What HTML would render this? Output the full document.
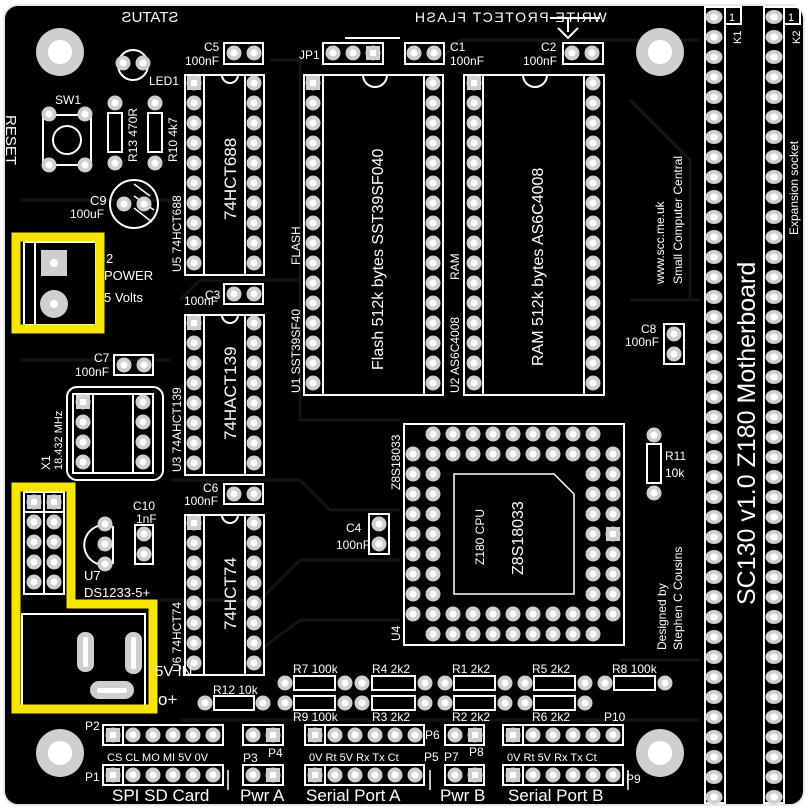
<!DOCTYPE html>
<html><head><meta charset="utf-8"><style>
html,body{margin:0;padding:0;background:#fff}
svg{display:block}
text{font-family:"Liberation Sans","DejaVu Sans",sans-serif;fill:#fff}
</style></head><body>
<svg width="809" height="809" viewBox="0 0 809 809" xmlns="http://www.w3.org/2000/svg" xmlns:xlink="http://www.w3.org/1999/xlink">
<defs>
<pattern id="pc" width="20" height="20" patternUnits="userSpaceOnUse"><circle cx="10" cy="10" r="7.5" fill="#cfcfcf"/><circle cx="10" cy="10" r="3.5" fill="#fff"/></pattern>
<pattern id="pk" width="20" height="20" patternUnits="userSpaceOnUse"><ellipse cx="10" cy="10" rx="8.5" ry="7" fill="#cfcfcf"/><ellipse cx="10" cy="10" rx="4" ry="3.5" fill="#fff"/></pattern>
<g id="pd"><circle r="7.5" fill="#cfcfcf"/><circle r="3.5" fill="#fff"/></g>
<g id="sq"><rect x="-7" y="-7" width="14" height="14" fill="#cfcfcf"/><rect x="-3" y="-3" width="6" height="6" fill="#fff"/></g>
</defs>
<rect x="4" y="5" width="800" height="800" rx="14" fill="#000" stroke="#e8e8e8" stroke-width="2"/>
<g stroke="#141414" stroke-width="3" fill="none">
<path d="M270 60 H300 V420 H400"/><path d="M440 60 L460 40 H700"/><path d="M630 100 L690 160 V300"/>
<path d="M180 300 L200 280 H300"/><path d="M170 480 H300 L330 510 H400"/><path d="M160 600 H260 L300 560 H400"/>
<path d="M260 650 L300 620 H400"/><path d="M630 300 H700"/><path d="M620 660 H700"/>
<path d="M20 200 H180"/><path d="M20 360 H170"/><path d="M180 720 H700"/>
</g>
<g fill="#cfcfcf"><circle cx="60" cy="52" r="24"/><circle cx="660" cy="52" r="24"/><circle cx="60" cy="753" r="24"/><circle cx="660" cy="753" r="24"/></g>
<g fill="#fff"><circle cx="60" cy="52" r="12"/><circle cx="660" cy="52" r="12"/><circle cx="60" cy="753" r="12"/><circle cx="660" cy="753" r="12"/></g>

<g stroke="#fff" stroke-width="2" fill="none">
<rect x="705" y="7" width="20" height="796"/><rect x="725" y="7" width="16" height="17"/>
<rect x="764" y="7" width="20" height="796"/><rect x="784" y="7" width="16" height="17"/>
<rect x="185" y="75" width="79" height="200"/><line x1="204" y1="75" x2="204" y2="275"/><line x1="245" y1="75" x2="245" y2="275"/>
<rect x="185" y="315" width="79" height="160"/><line x1="204" y1="315" x2="204" y2="475"/><line x1="245" y1="315" x2="245" y2="475"/>
<rect x="185" y="515" width="79" height="160"/><line x1="204" y1="515" x2="204" y2="675"/><line x1="245" y1="515" x2="245" y2="675"/>
<rect x="304" y="75" width="139" height="320"/><line x1="323" y1="75" x2="323" y2="395"/><line x1="424" y1="75" x2="424" y2="395"/>
<rect x="464" y="75" width="140" height="320"/><line x1="483" y1="75" x2="483" y2="395"/><line x1="584" y1="75" x2="584" y2="395"/>
<path d="M222 75 a8 8 0 0 0 16 0"/><path d="M222 315 a8 8 0 0 0 16 0"/><path d="M222 515 a8 8 0 0 0 16 0"/>
<path d="M363 75 a12 12 0 0 0 24 0"/><path d="M523 75 a12 12 0 0 0 24 0"/>
<rect x="404" y="424" width="220" height="221"/>
<path d="M454 474 H554 L574 494 V594 H454 Z" stroke-width="1.5"/>
<rect x="67" y="387" width="96" height="93" rx="10"/><line x1="93" y1="394" x2="93" y2="473"/><line x1="133" y1="394" x2="133" y2="473"/><rect x="73" y="394" width="80" height="79"/>
<rect x="224" y="43" width="39" height="21"/><rect x="323" y="43" width="60" height="21"/><rect x="405" y="43" width="39" height="21"/><rect x="563" y="43" width="40" height="21"/>
<rect x="224" y="284" width="39" height="20"/><rect x="114" y="355" width="39" height="20"/><rect x="224" y="484" width="39" height="20"/>
<rect x="369" y="514" width="20" height="40"/><rect x="664" y="324" width="20" height="40"/><rect x="135" y="525" width="18" height="39"/>
<rect x="43" y="115" width="48" height="50"/><circle cx="67" cy="140" r="14"/>
<rect x="108" y="113" width="14" height="39"/><rect x="148" y="113" width="14" height="39"/>
<circle cx="134" cy="204" r="24"/><circle cx="133" cy="65" r="15"/>
<rect x="647" y="444" width="14" height="39"/>
<path d="M113 527 A20 20 0 1 0 113 563 Z"/>
<rect x="24" y="242" width="72" height="83"/><line x1="35" y1="242" x2="35" y2="325"/>
<rect x="24" y="492" width="40" height="102"/><line x1="44" y1="492" x2="44" y2="594"/><line x1="24" y1="512" x2="64" y2="512"/>
<rect x="22" y="614" width="123" height="92"/>
<rect x="294" y="676" width="41" height="14"/><rect x="372" y="676" width="43" height="14"/><rect x="454" y="676" width="41" height="14"/><rect x="534" y="676" width="41" height="14"/><rect x="614" y="676" width="41" height="14"/>
<rect x="214" y="696" width="40" height="14"/><rect x="294" y="696" width="41" height="14"/><rect x="372" y="696" width="43" height="14"/><rect x="454" y="696" width="41" height="14"/><rect x="534" y="696" width="41" height="14"/>
<rect x="103" y="725" width="120" height="20"/><line x1="123" y1="725" x2="123" y2="745"/>
<rect x="243" y="725" width="40" height="20"/><rect x="305" y="725" width="119" height="20"/><line x1="325" y1="725" x2="325" y2="745"/>
<rect x="445" y="725" width="39" height="20"/><rect x="503" y="725" width="120" height="20"/><line x1="523" y1="725" x2="523" y2="745"/>
<rect x="103" y="765" width="120" height="20"/><line x1="123" y1="765" x2="123" y2="785"/>
<rect x="243" y="765" width="40" height="20"/><rect x="305" y="765" width="119" height="20"/><line x1="325" y1="765" x2="325" y2="785"/>
<rect x="445" y="765" width="39" height="20"/><rect x="503" y="765" width="120" height="20"/><line x1="523" y1="765" x2="523" y2="785"/>
<path d="M550 18 H600 M568 18 V32 M558 28 L568 38 L578 28 M345 38 H400"/>
<path d="M228 770 V790 M430 770 V790 M628 770 V790" stroke-width="1.5"/>
</g>
<g stroke="#fff" stroke-width="1.5"><line x1="134" y1="184" x2="150" y2="196"/><line x1="134" y1="196" x2="154" y2="210"/><line x1="134" y1="208" x2="152" y2="222"/></g>
<g fill="none" stroke="#f6e500" stroke-width="9">
<rect x="16" y="237" width="84" height="92"/>
<path d="M16 487 H71 V604 H153 V709 H16 Z"/>
</g>

<g fill="url(#pk)">
<rect transform="translate(704,7)" width="20" height="800"/>
<rect transform="translate(764,7)" width="20" height="800"/>
</g>
<g fill="url(#pc)">
<rect transform="translate(184,73)" width="20" height="200"/><rect transform="translate(244,73)" width="20" height="200"/>
<rect transform="translate(184,313)" width="20" height="160"/><rect transform="translate(244,313)" width="20" height="160"/>
<rect transform="translate(184,513)" width="20" height="160"/><rect transform="translate(244,513)" width="20" height="160"/>
<rect transform="translate(303,73)" width="20" height="320"/><rect transform="translate(423,73)" width="20" height="320"/>
<rect transform="translate(464,73)" width="20" height="320"/><rect transform="translate(583,73)" width="20" height="320"/>
<rect transform="translate(73,392)" width="20" height="80"/><rect transform="translate(133,392)" width="20" height="80"/>
<rect transform="translate(24,492)" width="40" height="100"/>
<rect transform="translate(423,424)" width="180" height="20"/>
<rect transform="translate(403,444)" width="220" height="20"/>
<rect transform="translate(403,464)" width="40" height="140"/>
<rect transform="translate(583,464)" width="40" height="140"/>
<rect transform="translate(403,604)" width="220" height="20"/>
<rect transform="translate(423,624)" width="180" height="20"/>
<rect transform="translate(224,43)" width="40" height="20"/><rect transform="translate(323,43)" width="60" height="20"/>
<rect transform="translate(404,43)" width="40" height="20"/><rect transform="translate(562,43)" width="40" height="20"/>
<rect transform="translate(224,284)" width="40" height="20"/><rect transform="translate(114,355)" width="40" height="20"/>
<rect transform="translate(224,484)" width="40" height="20"/>
<rect transform="translate(369,514)" width="20" height="40"/><rect transform="translate(664,324)" width="20" height="40"/>
<rect transform="translate(134,524)" width="20" height="40"/><rect transform="translate(95,514)" width="20" height="60"/>
<rect transform="translate(103,725)" width="120" height="20"/><rect transform="translate(243,725)" width="40" height="20"/>
<rect transform="translate(305,725)" width="120" height="20"/><rect transform="translate(445,725)" width="40" height="20"/>
<rect transform="translate(503,725)" width="120" height="20"/>
<rect transform="translate(103,765)" width="120" height="20"/><rect transform="translate(243,765)" width="40" height="20"/>
<rect transform="translate(305,765)" width="120" height="20"/><rect transform="translate(445,765)" width="40" height="20"/>
<rect transform="translate(503,765)" width="120" height="20"/>
</g>
<g>
<use xlink:href="#pd" x="49" y="114"/><use xlink:href="#pd" x="85" y="114"/><use xlink:href="#pd" x="49" y="165"/><use xlink:href="#pd" x="85" y="165"/>
<use xlink:href="#pd" x="115" y="103"/><use xlink:href="#pd" x="115" y="163"/><use xlink:href="#pd" x="155" y="103"/><use xlink:href="#pd" x="155" y="163"/>
<use xlink:href="#pd" x="124" y="204"/><use xlink:href="#pd" x="144" y="204"/><use xlink:href="#pd" x="123" y="63"/><use xlink:href="#pd" x="143" y="63"/>
<use xlink:href="#pd" x="654" y="435"/><use xlink:href="#pd" x="654" y="493"/>
<use xlink:href="#pd" x="285" y="683"/><use xlink:href="#pd" x="345" y="683"/><use xlink:href="#pd" x="362" y="683"/><use xlink:href="#pd" x="425" y="683"/>
<use xlink:href="#pd" x="445" y="683"/><use xlink:href="#pd" x="505" y="683"/><use xlink:href="#pd" x="525" y="683"/><use xlink:href="#pd" x="585" y="683"/>
<use xlink:href="#pd" x="605" y="683"/><use xlink:href="#pd" x="665" y="683"/>
<use xlink:href="#pd" x="205" y="703"/><use xlink:href="#pd" x="263" y="703"/><use xlink:href="#pd" x="285" y="703"/><use xlink:href="#pd" x="345" y="703"/>
<use xlink:href="#pd" x="362" y="703"/><use xlink:href="#pd" x="425" y="703"/><use xlink:href="#pd" x="445" y="703"/><use xlink:href="#pd" x="505" y="703"/>
<use xlink:href="#pd" x="525" y="703"/><use xlink:href="#pd" x="585" y="703"/>
<use xlink:href="#sq" x="194" y="83"/><use xlink:href="#sq" x="194" y="323"/><use xlink:href="#sq" x="194" y="523"/>
<use xlink:href="#sq" x="313" y="83"/><use xlink:href="#sq" x="474" y="83"/><use xlink:href="#sq" x="83" y="402"/>
<use xlink:href="#sq" x="34" y="502"/><use xlink:href="#sq" x="54" y="502"/><use xlink:href="#sq" x="373" y="53"/><use xlink:href="#sq" x="613" y="534"/>
<use xlink:href="#sq" x="113" y="735"/><use xlink:href="#sq" x="273" y="735"/><use xlink:href="#sq" x="315" y="735"/><use xlink:href="#sq" x="475" y="735"/><use xlink:href="#sq" x="513" y="735"/>
<use xlink:href="#sq" x="113" y="775"/><use xlink:href="#sq" x="273" y="775"/><use xlink:href="#sq" x="315" y="775"/><use xlink:href="#sq" x="475" y="775"/><use xlink:href="#sq" x="513" y="775"/>
</g>
<g fill="#cfcfcf"><rect x="77" y="632" width="17" height="40" rx="8"/><rect x="125" y="632" width="17" height="42" rx="8"/><rect x="90" y="681" width="44" height="18" rx="9"/></g>
<g fill="#fff"><rect x="83" y="637" width="5" height="30" rx="2"/><rect x="131" y="637" width="5" height="32" rx="2"/><rect x="97" y="688" width="30" height="5" rx="2"/></g>
<rect x="41" y="250" width="26" height="26" fill="#cfcfcf"/><circle cx="54" cy="263" r="4" fill="#fff"/>
<circle cx="54" cy="304" r="14" fill="#cfcfcf"/><circle cx="54" cy="304" r="4" fill="#fff"/>

<g font-size="12">
<text x="150" y="22" font-size="15" text-anchor="middle" transform="scale(-1,1) translate(-300,0)">STATUS</text>
<text x="510" y="22" font-size="14" text-anchor="middle" letter-spacing="1.5" transform="scale(-1,1) translate(-1020,0)">WRITE PROTECT FLASH</text>
<text x="204" y="51">C5</text><text x="185" y="65">100nF</text>
<text x="299" y="59">JP1</text>
<text x="450" y="51">C1</text><text x="450" y="65">100nF</text>
<text x="541" y="51">C2</text><text x="523" y="65">100nF</text>
<text x="149" y="85">LED1</text><text x="55" y="104">SW1</text>
<text x="90" y="205" font-size="13">C9</text><text x="70" y="218">100uF</text>
<text x="205" y="299">C3</text><text x="184" y="305">100nF</text>
<text x="94" y="362">C7</text><text x="75" y="376">100nF</text>
<text x="203" y="492">C6</text><text x="184" y="505">100nF</text>
<text x="133" y="510">C10</text><text x="136" y="523">1nF</text>
<text x="84" y="580" font-size="13">U7</text><text x="84" y="597" font-size="13">DS1233-5+</text>
<text x="346" y="532">C4</text><text x="336" y="549">100nF</text>
<text x="641" y="333">C8</text><text x="625" y="346">100nF</text>
<text x="665" y="460">R11</text><text x="665" y="477">10k</text>
<text x="106" y="263" font-size="13">2</text><text x="104" y="280" font-size="13">POWER</text><text x="104" y="302" font-size="13">5 Volts</text>
<text x="155" y="676" font-size="15">5V IN</text><text x="158" y="705" font-size="17">o+</text>
<text x="213" y="694">R12 10k</text>
<text x="293" y="673">R7 100k</text><text x="372" y="673">R4 2k2</text><text x="452" y="673">R1  2k2</text><text x="532" y="673">R5 2k2</text><text x="612" y="673">R8 100k</text>
<text x="293" y="721">R9  100k</text><text x="372" y="721">R3  2k2</text><text x="452" y="721">R2  2k2</text><text x="532" y="721">R6  2k2</text>
<text x="85" y="730">P2</text><text x="85" y="781">P1</text><text x="243" y="762">P3</text><text x="268" y="757">P4</text>
<text x="425" y="739">P6</text><text x="424" y="761">P5</text><text x="444" y="761">P7</text><text x="469" y="756">P8</text><text x="604" y="721">P10</text><text x="626" y="783">P9</text>
<text x="107" y="761" font-size="11">CS CL MO MI 5V 0V</text>
<text x="309" y="761" font-size="11">0V Rt 5V Rx Tx Ct</text>
<text x="507" y="761" font-size="11">0V Rt 5V Rx Tx Ct</text>
<g font-size="17"><text x="112" y="801">SPI SD Card</text><text x="240" y="801">Pwr A</text><text x="306" y="801">Serial Port A</text><text x="440" y="801">Pwr B</text><text x="508" y="801">Serial Port B</text></g>
<text x="729" y="21" font-size="11">1</text><text x="788" y="21" font-size="11">1</text>
</g>
<g font-size="12">
<text transform="translate(6,115) rotate(90)" font-size="15">RESET</text>
<text transform="translate(137,162) rotate(-90)">R13 470R</text>
<text transform="translate(177,162) rotate(-90)">R10 4k7</text>
<text transform="translate(181,272) rotate(-90)">U5 74HCT688</text>
<text transform="translate(236,220) rotate(-90)" font-size="17">74HCT688</text>
<text transform="translate(181,472) rotate(-90)">U3 74AHCT139</text>
<text transform="translate(236,440) rotate(-90)" font-size="17">74HACT139</text>
<text transform="translate(181,672) rotate(-90)">U6 74HCT74</text>
<text transform="translate(236,630) rotate(-90)" font-size="17">74HCT74</text>
<text transform="translate(300,265) rotate(-90)">FLASH</text>
<text transform="translate(300,393) rotate(-90)">U1 SST39SF40</text>
<text transform="translate(383,370) rotate(-90)" font-size="16">Flash 512k bytes SST39SF040</text>
<text transform="translate(459,280) rotate(-90)">RAM</text>
<text transform="translate(459,393) rotate(-90)">U2 AS6C4008</text>
<text transform="translate(543,366) rotate(-90)" font-size="16">RAM 512k bytes AS6C4008</text>
<text transform="translate(664,284) rotate(-90)">www.scc.me.uk</text>
<text transform="translate(682,284) rotate(-90)">Small Computer Central</text>
<text transform="translate(755,605) rotate(-90)" font-size="25">SC130 v1.0 Z180 Motherboard</text>
<text transform="translate(798,235) rotate(-90)" font-size="12">Expansion socket</text>
<text transform="translate(741,44) rotate(-90)" font-size="11">K1</text>
<text transform="translate(800,44) rotate(-90)" font-size="11">K2</text>
<text transform="translate(50,470) rotate(-90)">X1</text><text transform="translate(62,470) rotate(-90)" font-size="11">18.432 MHz</text>
<text transform="translate(400,490) rotate(-90)">Z8S18033</text>
<text transform="translate(400,641) rotate(-90)">U4</text>
<text transform="translate(484,565) rotate(-90)">Z180 CPU</text>
<text transform="translate(523,575) rotate(-90)" font-size="16">Z8S18033</text>
<text transform="translate(666,650) rotate(-90)">Designed by</text>
<text transform="translate(682,650) rotate(-90)">Stephen C Cousins</text>
</g>
</svg>
</body></html>
